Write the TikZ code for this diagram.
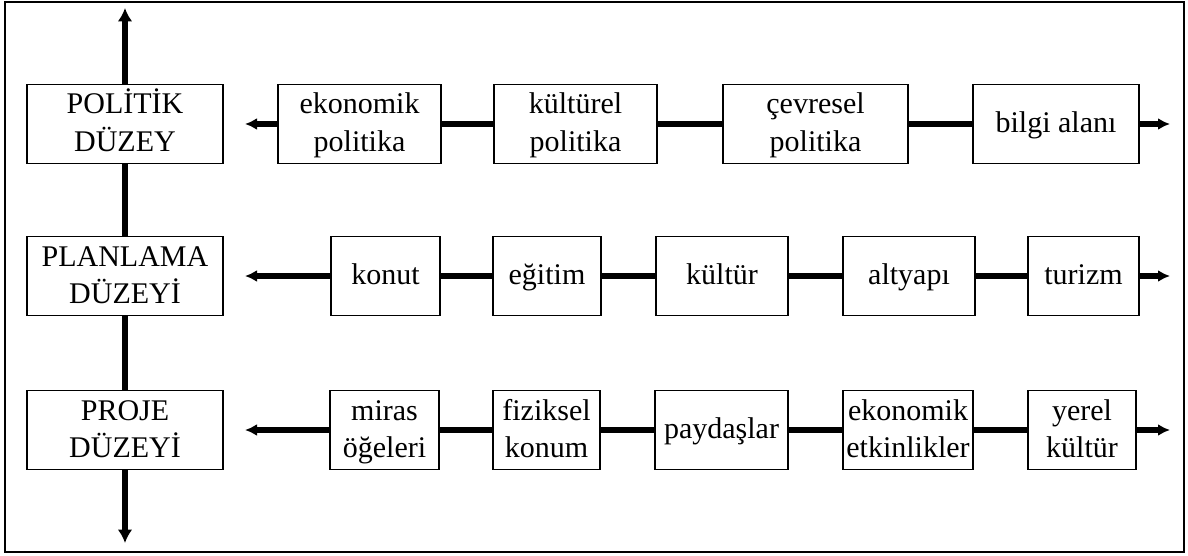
\documentclass[tikz,border=0pt]{standalone}
\usepackage{fontspec}
\setmainfont{Liberation Serif}
\usetikzlibrary{arrows.meta}
\newcommand{\boxstrut}{\rule[-8pt]{0pt}{29pt}}
\newcommand{\lnup}{\rule{0pt}{21pt}}
\newcommand{\lndn}{\rule[-8pt]{0pt}{8pt}}
\begin{document}
\begin{tikzpicture}[x=0.75pt,y=-0.75pt,
  box/.style={draw, line width=0.9pt, inner sep=0pt, align=center,
    minimum height=59.25pt, font=\fontsize{22.5}{28}\selectfont,
    execute at begin node={\boxstrut}, execute at end node={\boxstrut}},
  w/.style={minimum width=#1*0.75pt},
  conn/.style={line width=3.8pt},
  vconn/.style={line width=4.6pt},
  tiph/.style={conn, -{Latex[length=9pt,width=9pt]}},
  tipv/.style={vconn, -{Latex[length=10pt,width=11pt]}}
]
\useasboundingbox (0,0) rectangle (1188,556);
\draw[line width=0.8pt] (5,2) rectangle (1184,552);

% level boxes
\node[box, w=196] (pol) at (125,124) {\lnup POLİTİK\\\lndn DÜZEY};
\node[box, w=196] (pla) at (125,276) {\lnup PLANLAMA\\\lndn DÜZEYİ};
\node[box, w=196] (pro) at (125,430) {\lnup PROJE\\\lndn DÜZEYİ};

\coordinate (top) at (125,8);
\coordinate (bot) at (125,543);

% row 1
\node[box, w=163] (a1) at (359.5,124) {\lnup ekonomik\\\lndn politika};
\node[box, w=163] (a2) at (575.5,124) {\lnup kültürel\\\lndn politika};
\node[box, w=185] (a3) at (815.5,124) {\lnup çevresel\\\lndn politika};
\node[box, w=166] (a4) at (1056,124) {bilgi alanı};
\coordinate (aL) at (245,124);
\coordinate (aR) at (1170,124);

% row 2
\node[box, w=109] (b1) at (385.5,276) {konut};
\node[box, w=108] (b2) at (547,276) {eğitim};
\node[box, w=132] (b3) at (722,276) {kültür};
\node[box, w=132] (b4) at (909,276) {altyapı};
\node[box, w=111] (b5) at (1083.5,276) {turizm};
\coordinate (bL) at (245,276);
\coordinate (bR) at (1170,276);

% row 3
\node[box, w=109] (c1) at (384.5,430) {\lnup miras\\\lndn öğeleri};
\node[box, w=107] (c2) at (546.5,430) {\lnup fiziksel\\\lndn konum};
\node[box, w=133] (c3) at (721.5,430) {paydaşlar};
\node[box, w=130] (c4) at (908,430) {\lnup ekonomik\\\lndn etkinlikler};
\node[box, w=108] (c5) at (1082,430) {\lnup yerel\\\lndn kültür};
\coordinate (cL) at (245,430);
\coordinate (cR) at (1170,430);

% vertical axis
\draw[tipv] (pol.north) -- (top);
\draw[vconn] (pol.south) -- (pla.north);
\draw[vconn] (pla.south) -- (pro.north);
\draw[tipv] (pro.south) -- (bot);

% row connectors
\draw[tiph] (a1.west) -- (aL);
\draw[conn] (a1.east) -- (a2.west);
\draw[conn] (a2.east) -- (a3.west);
\draw[conn] (a3.east) -- (a4.west);
\draw[tiph] (a4.east) -- (aR);

\draw[tiph] (b1.west) -- (bL);
\draw[conn] (b1.east) -- (b2.west);
\draw[conn] (b2.east) -- (b3.west);
\draw[conn] (b3.east) -- (b4.west);
\draw[conn] (b4.east) -- (b5.west);
\draw[tiph] (b5.east) -- (bR);

\draw[tiph] (c1.west) -- (cL);
\draw[conn] (c1.east) -- (c2.west);
\draw[conn] (c2.east) -- (c3.west);
\draw[conn] (c3.east) -- (c4.west);
\draw[conn] (c4.east) -- (c5.west);
\draw[tiph] (c5.east) -- (cR);
\end{tikzpicture}
\end{document}
